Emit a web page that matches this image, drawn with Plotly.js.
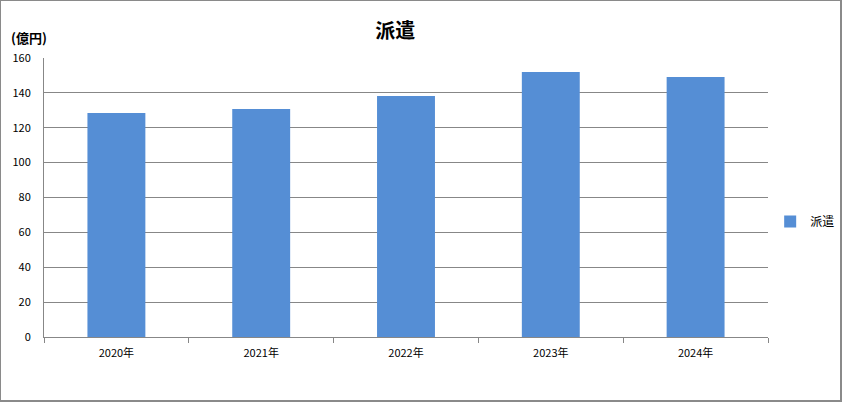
<!DOCTYPE html>
<html><head><meta charset="utf-8">
<script src="https://cdn.plot.ly/plotly-3.0.1.min.js"></script>
<style>
html,body{margin:0;padding:0;background:#fff;}
#wrap{width:842px;height:402px;box-sizing:border-box;border:1px solid #8a8a8a;border-right-width:2px;border-bottom-width:2px;}
#chart{width:839px;height:399px;}
</style></head>
<body><div id="wrap"><div id="chart"></div></div>
<script>
const categories = ["2020年","2021年","2022年","2023年","2024年"];
const values = [128.4, 130.7, 138.2, 152.0, 149.1];
const seriesName = "派遣";
const yTickVals = [0,20,40,60,80,100,120,140,160];

const font = "'Noto Sans CJK JP','Noto Sans',sans-serif";
Plotly.newPlot('chart', [{
  type:'bar', x:categories, y:values, name:seriesName,
  marker:{color:'#558ed5'}, showlegend:true
}], {
  width:839, height:399,
  margin:{l:43,r:72,t:57,b:63,autoexpand:false},
  paper_bgcolor:'#fff', plot_bgcolor:'#fff',
  bargap:0.6,
  title:{text:'<b>派遣</b>', x:0.47, xanchor:'center', y:0.925, yanchor:'middle', font:{family:font,size:20,color:'#000'}},
  xaxis:{type:'category', showline:true, linecolor:'#878787', linewidth:1, ticks:'outside', tickson:'boundaries', ticklen:5, tickcolor:'#878787',
    tickfont:{family:font,size:11,color:'#000'}, showgrid:false, ticklabelstandoff:6},
  yaxis:{range:[0,160], tickvals:yTickVals, showline:true, linecolor:'#878787', linewidth:1, gridcolor:'#878787', gridwidth:1,
    zeroline:false, ticks:'', tickfont:{family:font,size:11,color:'#000'}, fixedrange:true, ticklabelstandoff:10},
  showlegend:true,
  legend:{x:1.003, y:0.414, xanchor:'left', yanchor:'middle', font:{family:font,size:12,color:'#000'}, itemwidth:30},
  annotations:[{text:'<b>(億円)</b>', xref:'paper', yref:'paper', x:-0.048, y:1.072, xanchor:'left', yanchor:'middle', showarrow:false, font:{family:font,size:13,color:'#000'}}]
}, {displayModeBar:false, staticPlot:true});
</script></body></html>
